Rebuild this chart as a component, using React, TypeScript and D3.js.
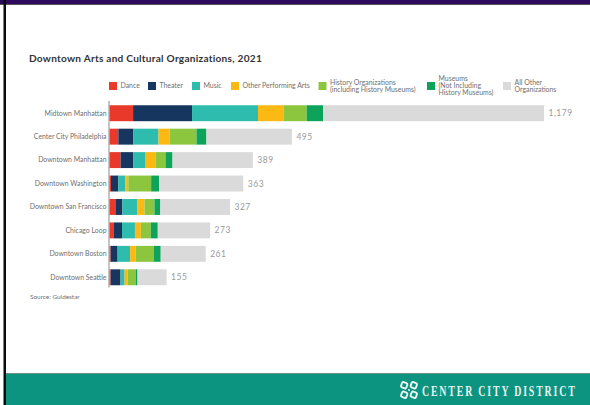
import React from "react";
import * as d3 from "d3";

const W = 590;
const H = 405;

const categories = [
  "Midtown Manhattan",
  "Center City Philadelphia",
  "Downtown Manhattan",
  "Downtown Washington",
  "Downtown San Francisco",
  "Chicago Loop",
  "Downtown Boston",
  "Downtown Seattle",
];
const dance = [64, 24, 30, 4, 16, 12, 3, 3];
const theater = [160, 41, 35, 20, 19, 22, 19, 27];
const music = [179, 68, 33, 19, 41, 35, 34, 11];
const otherPerforming = [70, 30, 27, 8, 19, 16, 15, 8];
const historyOrgs = [62, 73, 27, 62, 27, 27, 49, 22];
const museums = [45, 27, 19, 22, 16, 19, 19, 5];
const allOther = [599, 232, 218, 228, 189, 142, 122, 79];
const totalLabels = ["1,179", "495", "389", "363", "327", "273", "261", "155"];

const seriesNames = ["Dance", "Theater", "Music", "Other Performing Arts", "History", "Museums", "Other"];
const seriesValues = [dance, theater, music, otherPerforming, historyOrgs, museums, allOther];
const seriesColors = ["#e8392a", "#17365f", "#2dbcae", "#fdb913", "#8cc63f", "#0ea35a", "#dadada"];

// Legend entries, one array of lines per swatch, with the swatch's left edge
const legendLines = [
  ["Dance"],
  ["Theater"],
  ["Music"],
  ["Other Performing Arts"],
  ["History Organizations", "(including History Museums)"],
  ["Museums", "(Not Including", "History Museums)"],
  ["All Other", "Organizations"],
];
const legendX = [109, 148, 192, 231, 318.5, 427, 503];

export default function App() {
  const x = d3.scaleLinear().domain([0, 1179]).range([109.5, 544]);
  const y = d3
    .scaleBand<string>()
    .domain(categories)
    .range([101.5, 289])
    .paddingInner(0.32)
    .paddingOuter(0.16);

  const rows = categories.map((c, i) => {
    const o: Record<string, number | string> = { category: c };
    seriesNames.forEach((s, k) => (o[s] = seriesValues[k][i]));
    return o;
  });
  const stacked = d3.stack<Record<string, number | string>>().keys(seriesNames)(rows as never);

  const textGrey = "#6f6f6f";
  const font = "Lato, 'Open Sans', sans-serif";

  return (
    <svg
      width={W}
      height={H}
      viewBox={`0 0 ${W} ${H}`}
      style={{ position: "absolute", left: 0, top: 0, background: "#fff", fontFamily: font }}
    >
      {/* slide frame */}
      <rect x={0} y={0} width={W} height={4} fill="#2e0a5e" />
      <rect x={0} y={4} width={W} height={1} fill="#555" />
      <rect x={3.5} y={0} width={2.5} height={H} fill="#0b0b0b" />
      <rect x={6} y={373} width={W} height={32} fill="#0d9480" />
      <rect x={6} y={373} width={W} height={1} fill="#6f8f8a" />

      <text x={29} y={61.5} fontSize={10.1} fontWeight={700} fill="#333" letterSpacing={0.25}>
        Downtown Arts and Cultural Organizations, 2021
      </text>

      {/* legend */}
      {legendLines.map((lines, i) => {
        const cy = 86;
        const lh = 7;
        const x0 = legendX[i];
        return (
          <g key={i}>
            <rect x={x0} y={cy - 4} width={8} height={8} fill={seriesColors[i]} />
            {lines.map((t, j) => (
              <text
                key={j}
                x={x0 + 11.5}
                y={cy + 2.3 + (j - (lines.length - 1) / 2) * lh}
                fontSize={6.9}
                fill={textGrey}
              >
                {t}
              </text>
            ))}
          </g>
        );
      })}

      {/* stacked bars */}
      {stacked.map((layer, k) =>
        layer.map((d, i) => (
          <rect
            key={`${k}-${i}`}
            x={x(d[0])}
            y={y(categories[i])}
            width={x(d[1]) - x(d[0])}
            height={y.bandwidth()}
            fill={seriesColors[k]}
          />
        ))
      )}

      {/* category axis line */}
      <line x1={109} x2={109} y1={101} y2={287.5} stroke="#8a8a8a" strokeWidth={1} />

      {categories.map((c, i) => (
        <text
          key={c}
          x={106.5}
          y={y(c)! + y.bandwidth() / 2 + 2.3}
          textAnchor="end"
          fontSize={6.9}
          fill={textGrey}
        >
          {c}
        </text>
      ))}

      {totalLabels.map((t, i) => (
        <text
          key={t}
          x={x(d3.sum(seriesValues, (s) => s[i])) + 4.5}
          y={y(categories[i])! + y.bandwidth() / 2 + 3}
          fontSize={8.5}
          letterSpacing={0.5}
          fill="#9a9a9a"
        >
          {t}
        </text>
      ))}

      <text x={30} y={298.5} fontSize={6.4} fill={textGrey}>
        Source: Guidestar
      </text>

      {/* district mark and wordmark */}
      <g transform="translate(409,390)" fill="#eef6f4">
        {[
          [-4.8, -4.8],
          [4.8, -4.8],
          [-4.8, 4.8],
          [4.8, 4.8],
        ].map(([dx, dy], i) => (
          <rect
            key={i}
            x={dx - 2.8}
            y={dy - 2.8}
            width={5.6}
            height={5.6}
            rx={1.4}
            fill="none"
            stroke="#eef6f4"
            strokeWidth={1.9}
            transform={`rotate(20 ${dx} ${dy})`}
          />
        ))}
        <circle r={1} />
      </g>
      {/* condensed, widely tracked serif wordmark */}
      <text
        transform="translate(422,396) scale(0.66,1)"
        fontFamily="'Liberation Serif', serif"
        fontSize={15}
        fontWeight={700}
        letterSpacing={2.75}
        fill="#e6f2ef"
      >
        CENTER CITY DISTRICT
      </text>
    </svg>
  );
}
